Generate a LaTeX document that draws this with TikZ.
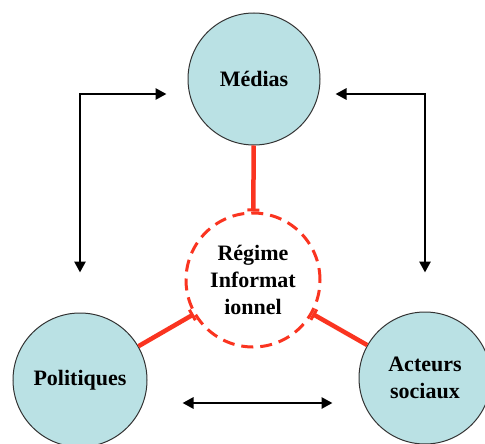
\documentclass[tikz,border=0pt]{standalone}
\usepackage{fontspec}
\setmainfont{Liberation Serif}
\usepackage{tikz}
\usepackage{xcolor}
\usetikzlibrary{shapes.geometric, arrows.meta, positioning}
\definecolor{actorfill}{RGB}{186,225,228}
\definecolor{linkred}{RGB}{250,52,32}
\tikzstyle{actor}   = [circle, minimum size=132pt, inner sep=0pt, draw=black!80, line width=1pt,
                       fill=actorfill, align=center, font=\fontsize{22}{27}\selectfont\bfseries]
\tikzstyle{regime}  = [circle, minimum size=134pt, inner sep=0pt, draw=linkred, line width=3pt,
                       dash pattern=on 12pt off 7pt, fill=white, align=center,
                       font=\fontsize{22}{27}\selectfont\bfseries]
\tikzstyle{link}    = [draw=linkred, line width=4.5pt, -{Bar[width=12pt, line width=3pt]}]
\tikzstyle{dblarrow} = [{Triangle[length=11pt, width=11pt]}-{Triangle[length=11pt, width=11pt]}, line width=2.8pt]

\begin{document}
\begin{tikzpicture}[x=1pt, y=-1pt]
    \useasboundingbox (0,0) rectangle (485,444);
    \node (medias) [actor] at (254,79) {Médias};
    \node (regime) [regime] at (253,280) {Régime\\Informat\\ionnel};
    \node (politiques) [actor, minimum size=134pt] at (80,380) {Politiques};
    \node (acteurs) [actor] at (425,378) {Acteurs\\sociaux};

    % liens vers le régime
    \draw[link] (medias) -- (regime);
    \draw[link] (politiques) -- (regime);
    \draw[link] (acteurs) -- (regime);

    % échanges entre acteurs
    \draw[dblarrow, shorten <=40pt, shorten >=21pt] (politiques.north) |- ([yshift=-15pt]medias.west);
    \draw[dblarrow, shorten <=39pt, shorten >=15pt] (acteurs.north) |- ([yshift=-15pt]medias.east);
    \draw[dblarrow, shorten <=35pt, shorten >=26pt] ([yshift=-23pt]politiques.east) -- ([yshift=-25pt]acteurs.west);
\end{tikzpicture}
\end{document}
